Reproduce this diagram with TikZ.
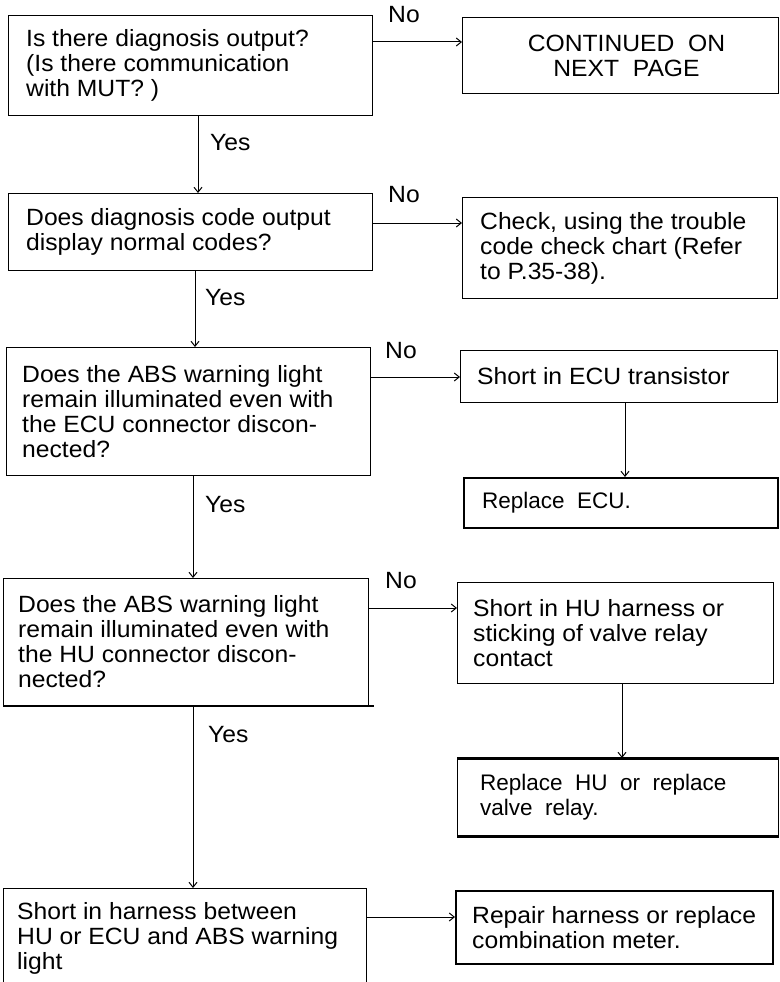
\documentclass[tikz,border=0pt]{standalone}
\usepackage{fontspec}
\setmainfont{Liberation Sans}[FakeStretch=1.05]
\newfontfamily\plainf{Liberation Sans}
\usetikzlibrary{arrows.meta}
\begin{document}
\begin{tikzpicture}[x=1pt,y=1pt,
  box/.style={draw, line width=1pt, anchor=north west, inner sep=0pt},
  txt/.style={anchor=west, align=left, inner sep=0pt, font=\fontsize{23.5}{25}\selectfont},
  ptxt/.style={anchor=west, align=left, inner sep=0pt, font=\plainf\fontsize{22.5}{25}\selectfont},
  lbl/.style={anchor=base west, inner sep=0pt, font=\fontsize{23.5}{25}\selectfont},
  arr/.style={line width=1pt, -{Straight Barb[length=5pt,width=8pt]}},
]
\useasboundingbox (0,0) rectangle (779,-982);

% boxes
\node[box, minimum width=364pt, minimum height=100pt] (b1) at (8,-15) {};
\node[box, minimum width=316pt, minimum height=76pt] (c1) at (462,-17) {};
\node[box, minimum width=364pt, minimum height=77pt] (b2) at (8,-193) {};
\node[box, minimum width=315pt, minimum height=101pt] (c2) at (462,-197) {};
\node[box, minimum width=364pt, minimum height=128pt] (b3) at (6,-347) {};
\node[box, minimum width=317pt, minimum height=52pt] (c3) at (460,-350) {};
\node[box, line width=2pt, minimum width=314pt, minimum height=50pt] (r1) at (463,-477) {};
\node[box, minimum width=365pt, minimum height=127pt] (b4) at (3,-578) {};
\node[box, minimum width=316pt, minimum height=101pt] (c4) at (457,-582) {};
\node[box, minimum width=321pt, minimum height=77pt] (r2) at (457,-758) {};
\node[box, draw=none, minimum width=362pt, minimum height=100pt] (b5) at (3,-888) {};
\node[box, line width=1.5pt, minimum width=317pt, minimum height=73pt] (c5) at (455,-890) {};

% special edges
\draw[line width=1pt] (b5.south west) -- (b5.north west) -- (b5.north east) -- (b5.south east);
\draw[line width=2pt] (b4.south west) -- ([xshift=5pt]b4.south east);
\draw[line width=3pt] (r2.north west) -- (r2.north east);
\draw[line width=3pt] (r2.south west) -- (r2.south east);

% texts
\node[txt] (b1t) at ([xshift=18pt]b1.west) {Is there diagnosis output?\\(Is there communication\\with MUT? )};
\node[txt, anchor=center, align=center] (c1t) at ([xshift=6pt]c1.center) {CONTINUED\ \ ON\\NEXT\ \ PAGE};
\node[txt] (b2t) at ([xshift=18pt]b2.west) {Does diagnosis code output\\display normal codes?};
\node[txt] (c2t) at ([xshift=18pt]c2.west) {Check, using the trouble\\code check chart (Refer\\to P.35-38).};
\node[txt] (b3t) at ([xshift=16pt]b3.west) {Does the ABS warning light\\remain illuminated even with\\the ECU connector discon-\\nected?};
\node[txt] (c3t) at ([xshift=17pt]c3.west) {Short in ECU transistor};
\node[ptxt] (r1t) at ([xshift=19pt]r1.west) {Replace\ \ ECU.};
\node[txt] (b4t) at ([xshift=15pt]b4.west) {Does the ABS warning light\\remain illuminated even with\\the HU connector discon-\\nected?};
\node[txt] (c4t) at ([xshift=16pt]c4.west) {Short in HU harness or\\sticking of valve relay\\contact};
\node[ptxt] (r2t) at ([xshift=23pt]r2.west) {Replace\ \ HU\ \ or\ \ replace\\valve\ \ relay.};
\node[txt] (b5t) at ([xshift=14pt]b5.west) {Short in harness between\\HU or ECU and ABS warning\\light};
\node[txt] (c5t) at ([xshift=17pt]c5.west) {Repair harness or replace\\combination meter.};

% labels
\node[lbl] (no1) at (388,-23) {No};
\node[lbl] (no2) at (388,-202) {No};
\node[lbl] (no3) at (385,-358) {No};
\node[lbl] (no4) at (385,-588) {No};
\node[lbl] (yes1) at (210,-150) {Yes};
\node[lbl] (yes2) at (205,-305) {Yes};
\node[lbl] (yes3) at (205,-512) {Yes};
\node[lbl] (yes4) at (208,-742) {Yes};

% connectors
\draw[arr] (b1.east |- 0,-42) -- (c1.west |- 0,-42);
\draw[arr] (b1.south -| 198,0) -- (b2.north -| 198,0);
\draw[arr] (b2.east |- 0,-223) -- (c2.west |- 0,-223);
\draw[arr] (b2.south -| 195,0) -- (b3.north -| 195,0);
\draw[arr] (b3.east |- 0,-377) -- (c3.west |- 0,-377);
\draw[arr] (c3.south -| 625,0) -- (r1.north -| 625,0);
\draw[arr] (b3.south -| 193,0) -- (b4.north -| 193,0);
\draw[arr] (b4.east |- 0,-608) -- (c4.west |- 0,-608);
\draw[arr] (c4.south -| 622,0) -- (r2.north -| 622,0);
\draw[arr] (b4.south -| 193,0) -- (b5.north -| 193,0);
\draw[arr] (b5.east |- 0,-917) -- (c5.west |- 0,-917);
\end{tikzpicture}
\end{document}
